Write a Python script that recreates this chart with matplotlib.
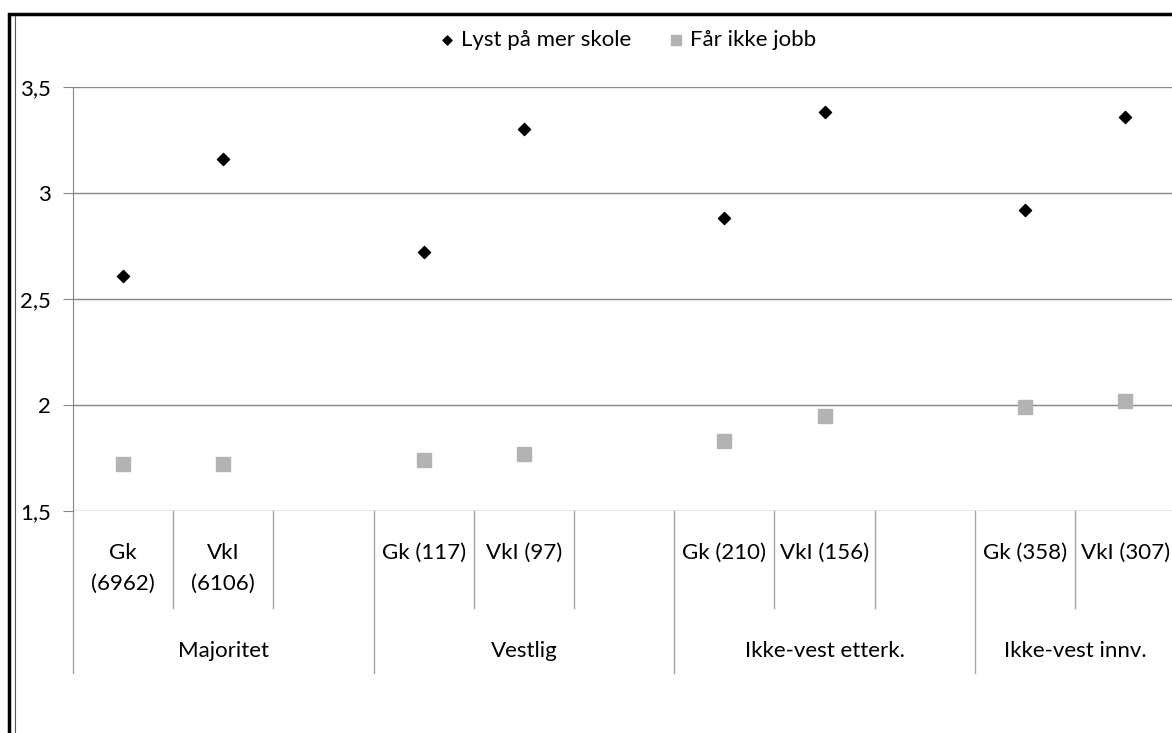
import numpy as np
import matplotlib
matplotlib.use("Agg")
import matplotlib.pyplot as plt
from matplotlib.transforms import blended_transform_factory
from matplotlib.patches import Rectangle
from matplotlib.lines import Line2D

plt.rcParams['font.family'] = ['Lato', 'DejaVu Sans']

# --- data
slot_labels = ["Gk\n(6962)", "VkI\n(6106)", "",
               "Gk (117)", "VkI (97)", "",
               "Gk (210)", "VkI (156)", "",
               "Gk (358)", "VkI (307)"]
groups = ["Majoritet", "Vestlig", "Ikke-vest etterk.", "Ikke-vest innv."]
group_sizes = [3, 3, 3, 2]
lyst = [2.61, 3.16, np.nan, 2.72, 3.30, np.nan, 2.88, 3.38, np.nan, 2.92, 3.36]
jobb = [1.72, 1.72, np.nan, 1.74, 1.77, np.nan, 1.83, 1.95, np.nan, 1.99, 2.02]

W, H = 1172, 733
fs = 16
fig = plt.figure(figsize=(W / 100, H / 100), dpi=100)

def fy(px):
    return 1 - px / H

slot_w = 100.2
ax_left, ax_top, ax_bot = 73, 87, 511
ax = fig.add_axes([ax_left / W, fy(ax_bot), len(slot_labels) * slot_w / W, (ax_bot - ax_top) / H])

x = np.arange(len(slot_labels))
grid_c = '#868686'
ax.scatter(x, lyst, marker='D', s=38, color='black', zorder=3, label='Lyst på mer skole')
ax.scatter(x, jobb, marker='s', s=95, color='#b3b3b3', zorder=3, label='Får ikke jobb')

ax.set_xlim(-0.5, len(slot_labels) - 0.5)
ax.set_ylim(1.5, 3.5)
ax.set_yticks([1.5, 2, 2.5, 3, 3.5])
ax.set_yticklabels([f"{v:g}".replace('.', ',') for v in [1.5, 2, 2.5, 3, 3.5]], fontsize=fs)
ax.tick_params(axis='y', length=7, color=grid_c, pad=9)
ax.set_xticks([])
ax.grid(axis='y', color=grid_c, linewidth=1)
ax.set_axisbelow(True)
for s in ['top', 'right', 'bottom']:
    ax.spines[s].set_visible(False)
ax.spines['left'].set_color(grid_c)

# multi-level category axis
tr = blended_transform_factory(ax.transData, fig.transFigure)
starts = np.cumsum([0] + group_sizes)
for i in range(len(slot_labels) + 1):
    bx = i - 0.5
    low = 673 if i in starts else 608
    ax.add_line(Line2D([bx, bx], [fy(ax_bot), fy(low)], transform=tr, color='#a6a6a6',
                       linewidth=1, clip_on=False))
for i, lab in enumerate(slot_labels):
    ax.text(i, fy(543), lab, transform=tr, ha='center', va='top', fontsize=fs,
            linespacing=1.65)
for g, s0, n in zip(groups, starts[:-1], group_sizes):
    ax.text(s0 + (n - 1) / 2, fy(651), g, transform=tr, ha='center', va='center', fontsize=fs)

fig.legend(loc='center', bbox_to_anchor=(626 / W, fy(40)), ncol=2, frameon=False,
           fontsize=fs, handletextpad=0.15, columnspacing=1.5, markerscale=0.75,
           handlelength=1.0)

# chart border
fig.patches.append(Rectangle((9 / W, -0.1), 1.2, fy(14) + 0.1, transform=fig.transFigure,
                             fill=False, edgecolor='black', linewidth=2.5))
fig.lines.append(Line2D([14.5 / W, 14.5 / W], [0, fy(16)], transform=fig.transFigure,
                        color='#555555', linewidth=0.8))

fig.savefig('out.png', dpi=100)
